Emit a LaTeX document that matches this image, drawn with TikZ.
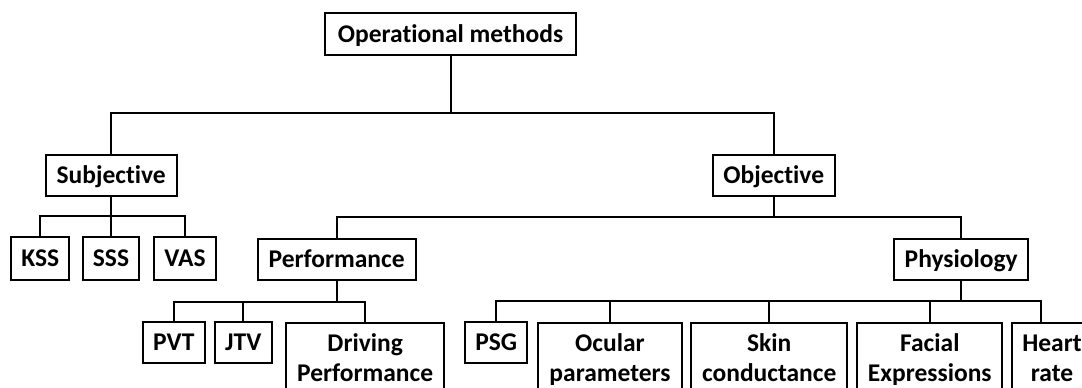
\documentclass[tikz,border=0pt]{standalone}
\usepackage{fontspec}
\setmainfont{Carlito}[Ligatures=NoCommon,RawFeature={-liga;-clig;-dlig}]
\begin{document}
\begin{tikzpicture}[x=1pt,y=-1pt,
  box/.style={draw, line width=2pt, font=\bfseries\fontsize{25.5}{30}\selectfont,
    text height=22pt, text depth=5pt, inner xsep=0pt, inner ysep=7pt,
    minimum height=41pt, align=center},
  tall/.style={box, text height=52pt, anchor=north},
  conn/.style={line width=2pt}]
\useasboundingbox (0,0) rectangle (1082,388);
\clip (0,0) rectangle (1082,388);
% nodes
\node[box, minimum width=251.6pt, minimum height=42pt] (top) at (450.5,34) {Operational methods};
\node[box, minimum width=131pt] (subj) at (111.2,175) {Subjective};
\node[box, minimum width=122.3pt] (obj) at (773.8,175) {Objective};
\node[box, minimum width=58.3pt, minimum height=43pt] (kss) at (40.2,258.3) {KSS};
\node[box, minimum width=56.6pt, minimum height=43pt] (sss) at (111,258.3) {SSS};
\node[box, minimum width=62pt, minimum height=43pt] (vas) at (185,258.3) {VAS};
\node[box, minimum width=158pt] (perf) at (336.7,259.2) {Performance};
\node[box, minimum width=134.3pt] (phys) at (961.2,259.2) {Physiology};
\node[box, minimum width=62.3pt] (pvt) at (173.8,342.2) {PVT};
\node[box, minimum width=56.7pt] (jtv) at (243.3,342.2) {JTV};
\node[tall, minimum width=158.3pt] (drv) at (365.2,321.7) {Driving\\Performance};
\node[box, minimum width=62.3pt] (psg) at (496.2,342.2) {PSG};
\node[tall, minimum width=143.2pt] (ocu) at (610,321.7) {Ocular\\parameters};
\node[tall, minimum width=156.3pt] (skin) at (769.2,321.7) {Skin\\conductance};
\node[tall, minimum width=145pt] (fac) at (929.8,321.7) {Facial\\Expressions};
\node[tall, minimum width=80pt] (heart) at (1052,321.7) {Heart\\rate};
% bus levels
\coordinate (b1) at (0,112.7);
\coordinate (bs) at (0,216);
\coordinate (bo) at (0,216.7);
\coordinate (bp) at (0,301.7);
\coordinate (bh) at (0,300.7);
\coordinate (hd) at (1041,300.7);
% connectors
\draw[conn] (top.south) -- (top.south |- b1);
\draw[conn] (subj.north) -- (subj.north |- b1) -- (obj.north |- b1) -- (obj.north);
\draw[conn] (subj.south) -- (subj.south |- bs);
\draw[conn] (kss.north) -- (kss.north |- bs) -- (vas.north |- bs) -- (vas.north);
\draw[conn] (sss.north) -- (sss.north |- bs);
\draw[conn] (obj.south) -- (obj.south |- bo);
\draw[conn] (perf.north) -- (perf.north |- bo) -- (phys.north |- bo) -- (phys.north);
\draw[conn] (perf.south) -- (perf.south |- bp);
\draw[conn] (pvt.north) -- (pvt.north |- bp) -- (drv.north |- bp) -- (drv.north);
\draw[conn] (jtv.north) -- (jtv.north |- bp);
\draw[conn] (phys.south) -- (phys.south |- bh);
\draw[conn] (psg.north) -- (psg.north |- bh) -- (hd) -- (hd |- heart.north);
\draw[conn] (ocu.north) -- (ocu.north |- bh);
\draw[conn] (skin.north) -- (skin.north |- bh);
\draw[conn] (fac.north) -- (fac.north |- bh);
\end{tikzpicture}
\end{document}
